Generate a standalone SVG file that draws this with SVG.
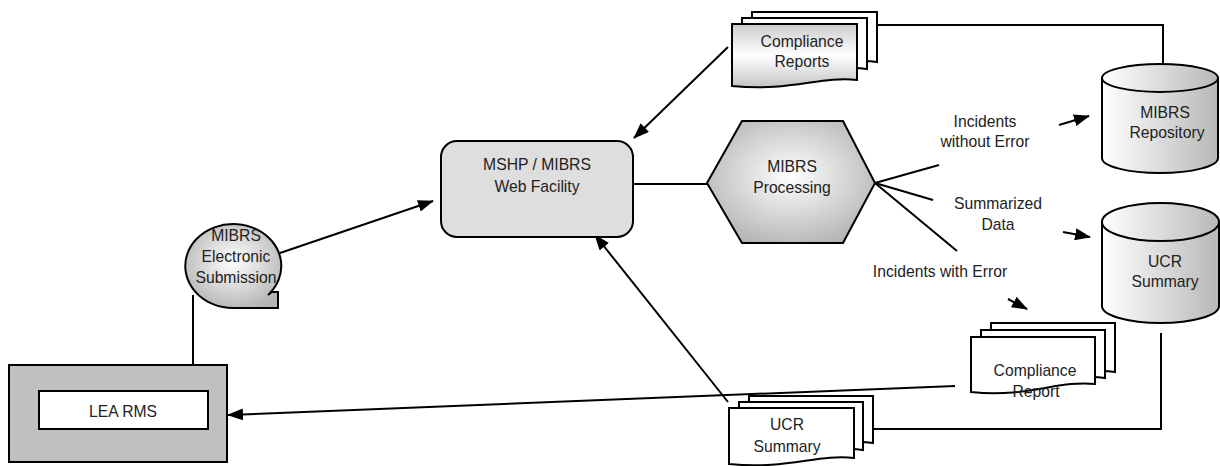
<svg xmlns="http://www.w3.org/2000/svg" width="1220" height="466" viewBox="0 0 1220 466">
<style>
text{font-family:"Liberation Sans",Arial,sans-serif;font-size:15.7px;fill:#222;text-anchor:middle}
.s{stroke:#000;stroke-width:2;stroke-linejoin:miter}
.c{fill:none;stroke:#000;stroke-width:2}
.a{marker-end:url(#ah)}
.w{fill:#fff}
</style>
<defs>
<marker id="ah" markerUnits="userSpaceOnUse" markerWidth="16" markerHeight="12" viewBox="0 0 16 12" refX="15" refY="6" orient="auto">
<path d="M0,0 L16,6 L0,12 Z" fill="#000"/>
</marker>
<radialGradient id="rg" cx="0.5" cy="0.45" r="0.6">
<stop offset="0" stop-color="#ffffff"/>
<stop offset="1" stop-color="#b4b4b4"/>
</radialGradient>
<linearGradient id="cyl" x1="0" y1="0" x2="1" y2="0">
<stop offset="0" stop-color="#ffffff"/>
<stop offset="1" stop-color="#b8b8b8"/>
</linearGradient>
<linearGradient id="doc" x1="0" y1="0" x2="0" y2="1">
<stop offset="0" stop-color="#cccccc"/>
<stop offset="0.5" stop-color="#ffffff"/>
<stop offset="1" stop-color="#c4c4c4"/>
</linearGradient>
</defs>
<rect width="1220" height="466" fill="#fff"/>

<g id="connectors">
<line class="c a" x1="728" y1="47" x2="634" y2="138"/>
<line class="c a" x1="280" y1="253" x2="433" y2="201"/>
<line class="c a" x1="728" y1="402" x2="595" y2="235"/>
<line class="c a" x1="955" y1="386" x2="228" y2="415"/>
<line class="c" x1="633" y1="184" x2="707" y2="184"/>
<line class="c" x1="875" y1="183" x2="939" y2="165"/>
<line class="c" x1="875" y1="183" x2="933" y2="200"/>
<line class="c" x1="875" y1="183" x2="957" y2="251"/>
<line class="c a" x1="1059" y1="125" x2="1089" y2="116"/>
<line class="c a" x1="1063" y1="232" x2="1090" y2="237"/>
<line class="c a" x1="1008" y1="299" x2="1027" y2="309"/>
<polyline class="c" points="877,25 1163,25 1163,65"/>
<polyline class="c" points="873,429 1161,429 1161,333"/>
<line class="c" x1="193" y1="295" x2="193" y2="365"/>
</g>

<g id="compliance-reports">
<path class="s w" d="M752,12 H877 V62 C855,58 820,66 752,70 Z"/>
<path class="s w" d="M742,18 H867 V69 C845,65 810,73 742,77 Z"/>
<path class="s" fill="url(#doc)" d="M732,24 H857 V80 C820,76 790,92 732,86 Z"/>
<text x="802" y="47">Compliance</text>
<text x="802" y="67">Reports</text>
</g>

<g id="mshp">
<rect class="s" x="441" y="141" width="192" height="96" rx="16" fill="#dedede"/>
<text x="537" y="170">MSHP / MIBRS</text>
<text x="537" y="192">Web Facility</text>
</g>

<g id="processing">
<polygon class="s" fill="url(#rg)" points="707,183 742,121 843,121 875,183 843,243 742,243"/>
<text x="792" y="172">MIBRS</text>
<text x="792" y="193">Processing</text>
</g>

<g id="label-incidents-ok">
<text x="985" y="127">Incidents</text>
<text x="985" y="147">without Error</text>
</g>
<g id="label-summarized">
<text x="998" y="209">Summarized</text>
<text x="998" y="230">Data</text>
</g>
<g id="label-incidents-err">
<text x="940" y="277">Incidents with Error</text>
</g>

<g id="mibrs-repository">
<path class="s" fill="url(#cyl)" d="M1102,78 V158 A58,15 0 0 0 1218,158 V78 Z"/>
<ellipse class="s" cx="1160" cy="78" rx="58" ry="14" fill="url(#cyl)"/>
<text x="1165" y="118">MIBRS</text>
<text x="1167" y="138">Repository</text>
</g>

<g id="ucr-summary-db">
<path class="s" fill="url(#cyl)" d="M1102,222 V306 A58.5,17 0 0 0 1219,306 V222 Z"/>
<ellipse class="s" cx="1160.5" cy="222" rx="58.5" ry="19" fill="url(#cyl)"/>
<text x="1165" y="267">UCR</text>
<text x="1165" y="287">Summary</text>
</g>

<g id="compliance-report">
<path class="s w" d="M991,323 H1115 V372 C1093,368 1058,376 991,380 Z"/>
<path class="s w" d="M981,330 H1105 V378 C1083,374 1048,382 981,386 Z"/>
<path class="s w" d="M971,337 H1095 V384 C1058,380 1028,398 971,392 Z"/>
<text x="1035" y="376">Compliance</text>
<text x="1036" y="397">Report</text>
</g>

<g id="ucr-summary-doc">
<path class="s w" d="M749,396 H873 V443 C851,439 816,447 749,451 Z"/>
<path class="s w" d="M739,402 H863 V450 C841,446 806,454 739,458 Z"/>
<path class="s w" d="M729,408 H854 V458 C817,454 787,470 729,464 Z"/>
<text x="787" y="430">UCR</text>
<text x="787" y="452">Summary</text>
</g>

<g id="electronic-submission">
<path class="s" fill="url(#rg)" d="M233,308 A48,42 0 1 1 268,295 L272,292 L278,292 L278,308 Z"/>
<text x="236" y="241">MIBRS</text>
<text x="236" y="262">Electronic</text>
<text x="236" y="283">Submission</text>
</g>

<g id="lea-rms">
<rect class="s" x="9" y="365" width="218" height="97" fill="#c0c0c0"/>
<rect class="s w" x="39" y="391" width="169" height="38"/>
<text x="123" y="417">LEA RMS</text>
</g>
</svg>
